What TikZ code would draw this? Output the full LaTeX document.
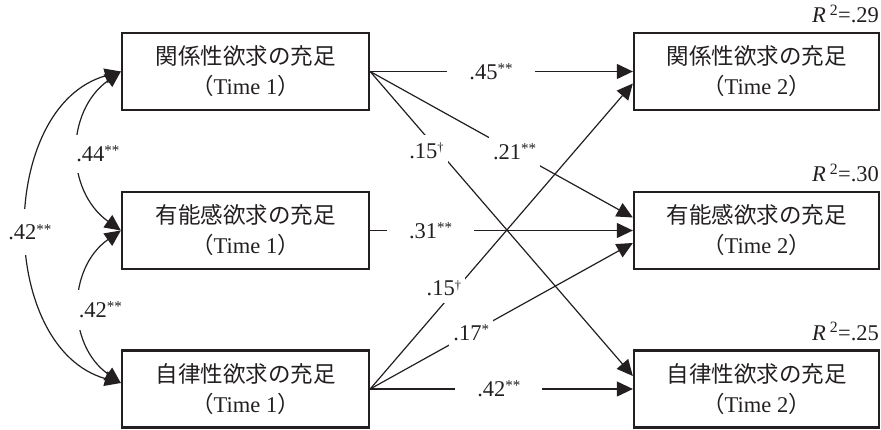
\documentclass[tikz,border=0pt]{standalone}
\usepackage{fontspec}
\setmainfont{Liberation Serif}
\newfontfamily\cjk{Noto Sans CJK JP}
\usetikzlibrary{arrows.meta}
\definecolor{ink}{HTML}{231F20}
\newcommand\sig[1]{\raisebox{5.6pt}{\fontsize{15}{15}\selectfont #1}}
\newcommand\dg{\raisebox{6.5pt}{\fontsize{12.5}{12.5}\selectfont †}}
\begin{document}
\begin{tikzpicture}[x=1pt,y=-1pt,
  box/.style={draw=ink, line width=2.3pt, minimum width=#1, minimum height=77pt, inner sep=0pt, align=center, text=ink, font=\fontsize{22.5}{30}\selectfont},
  box/.default=247pt,
  conn/.style={draw=ink, line width=1.2pt},
  arr/.style={conn, -{Triangle[length=16pt,width=15pt]}},
  both/.style={conn, {Triangle[length=16pt,width=15pt]}-{Triangle[length=16pt,width=15pt]}},
  lab/.style={fill=white, text=ink, font=\fontsize{22.5}{22.5}\selectfont, inner xsep=4pt, inner ysep=7pt},
  hlab/.style={lab, inner xsep=22pt, inner ysep=3pt},
  rsq/.style={anchor=base east, inner sep=0pt, text=ink, font=\fontsize{22.5}{22.5}\selectfont}
]
\useasboundingbox (0,0) rectangle (881,430);

% boxes
\node[box] (L1) at (245.5,71.5) {{\cjk 関係性欲求の充足}\\{\cjk （}Time 1{\cjk ）}};
\node[box] (L2) at (245.5,230.5) {{\cjk 有能感欲求の充足}\\{\cjk （}Time 1{\cjk ）}};
\node[box] (L3) at (245.5,389) {{\cjk 自律性欲求の充足}\\{\cjk （}Time 1{\cjk ）}};
\node[box=245pt] (R1) at (756.5,71.5) {{\cjk 関係性欲求の充足}\\{\cjk （}Time 2{\cjk ）}};
\node[box=245pt] (R2) at (756.5,230.5) {{\cjk 有能感欲求の充足}\\{\cjk （}Time 2{\cjk ）}};
\node[box=245pt] (R3) at (756.5,389) {{\cjk 自律性欲求の充足}\\{\cjk （}Time 2{\cjk ）}};

% R squared
\node[rsq] (r1) at ([xshift=-1pt,yshift=9pt]R1.north east) {\textit{R}\hspace{4pt}\textsuperscript{2}=.29};
\node[rsq] (r2) at ([xshift=-1pt,yshift=9pt]R2.north east) {\textit{R}\hspace{4pt}\textsuperscript{2}=.30};
\node[rsq] (r3) at ([xshift=-1pt,yshift=9pt]R3.north east) {\textit{R}\hspace{4pt}\textsuperscript{2}=.25};

% paths
\draw[arr] (L1.east) -- node[hlab, pos=0.46]{.45\sig{**}} (R1.west);
\draw[arr] (L1.east) -- node[lab, pos=0.55]{.21\sig{**}} ([yshift=13pt]R2.west);
\draw[arr] (L1.east) -- node[lab, pos=0.26, xshift=-12pt, inner ysep=8pt]{.15\dg} ([yshift=13pt]R3.west);
\draw[arr] (L2.east) -- node[hlab, pos=0.23]{.31\sig{**}} (R2.west);
\draw[arr] (L3.east) -- node[lab, pos=0.33, xshift=-13pt]{.15\dg} ([yshift=-12pt]R1.west);
\draw[arr] (L3.east) -- node[lab, pos=0.385]{.17\sig{*}} ([yshift=-12.5pt]R2.west);
\draw[arr] (L3.east) -- node[hlab, pos=0.49]{.42\sig{**}} (R3.west);

% correlations
\draw[both] (L1.west) .. controls +(-124,35) and +(-124,-35) .. ([yshift=6pt]L3.west)
  node[lab, pos=0.5, xshift=2pt, yshift=-5pt, inner ysep=15pt]{.42\sig{**}};
\draw[both] (L1.west) .. controls +(-56,40) and +(-56,-40) .. (L2.west)
  node[lab, pos=0.5, xshift=19pt, yshift=-3pt, inner ysep=11pt, inner xsep=6pt]{.44\sig{**}};
\draw[both] (L2.west) .. controls +(-54,38) and +(-54,-38) .. ([yshift=6pt]L3.west)
  node[lab, pos=0.5, xshift=20pt, yshift=-3pt, inner ysep=12pt, inner xsep=7pt]{.42\sig{**}};
\end{tikzpicture}
\end{document}
